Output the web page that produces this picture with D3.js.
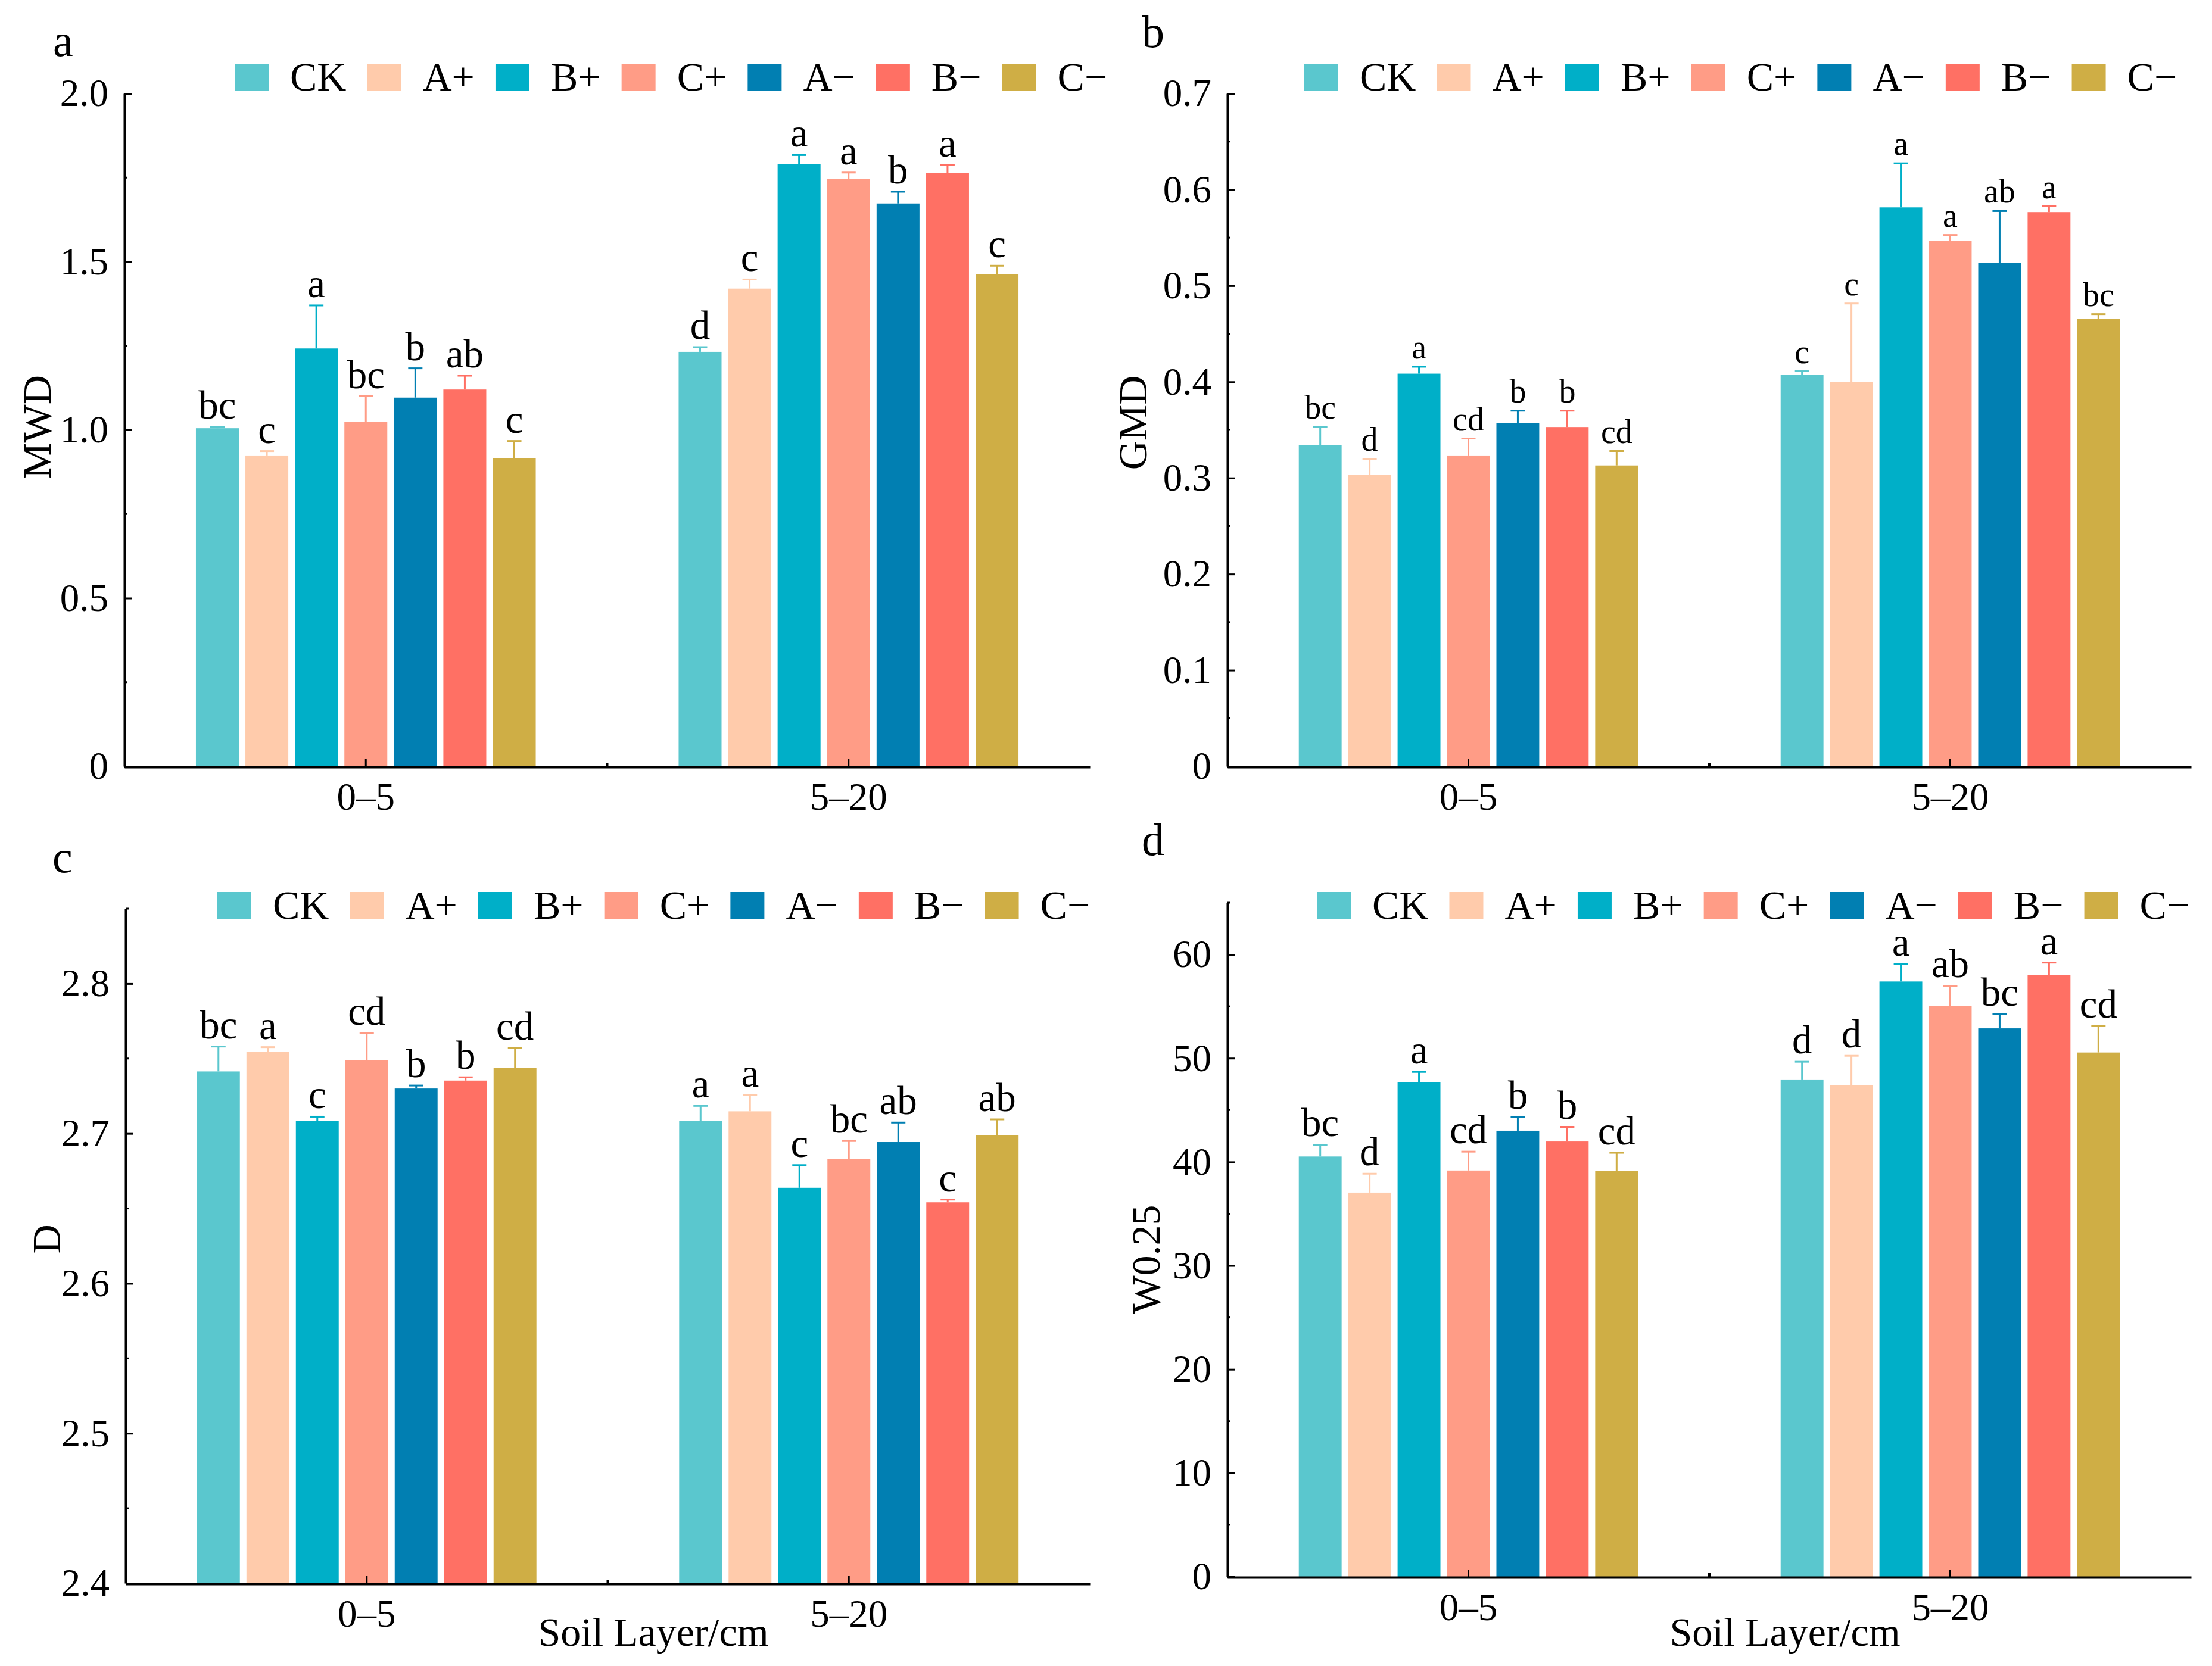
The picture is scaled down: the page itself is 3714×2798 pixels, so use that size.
<!DOCTYPE html>
<html>
<head>
<meta charset="utf-8">
<script src="https://cdn.jsdelivr.net/npm/d3@7"></script>
<style>
  body { margin: 0; background: #fff; }
  text { font-family: 'Liberation Serif', 'Times New Roman', serif; fill: #000; }
</style>
</head>
<body>
<svg id="main_svg" width="3714" height="2798"></svg>
<script>
// categories
const layers = ['0–5', '5–20'];
const treatments = ['CK', 'A+', 'B+', 'C+', 'A−', 'B−', 'C−'];
const colors = ['#5AC7CE', '#FFCBAB', '#00AFC8', '#FF9C86', '#017FB2', '#FF7064', '#CFAE45'];

// MWD
const mwd_0_5 = [1.005, 0.924, 1.242, 1.024, 1.096, 1.120, 0.916];
const mwd_0_5_err = [0.004, 0.013, 0.128, 0.076, 0.087, 0.041, 0.051];
const mwd_5_20 = [1.232, 1.420, 1.791, 1.746, 1.673, 1.763, 1.463];
const mwd_5_20_err = [0.014, 0.027, 0.026, 0.019, 0.035, 0.024, 0.025];
const mwd_sig = [['bc', 'c', 'a', 'bc', 'b', 'ab', 'c'], ['d', 'c', 'a', 'a', 'b', 'a', 'c']];

// GMD
const gmd_0_5 = [0.3345, 0.3035, 0.4085, 0.3234, 0.357, 0.353, 0.313];
const gmd_0_5_err = [0.0185, 0.016, 0.0072, 0.0176, 0.013, 0.017, 0.015];
const gmd_5_20 = [0.407, 0.400, 0.5815, 0.5467, 0.524, 0.5766, 0.4655];
const gmd_5_20_err = [0.004, 0.0815, 0.0459, 0.0061, 0.0537, 0.006, 0.0049];
const gmd_sig = [['bc', 'd', 'a', 'cd', 'b', 'b', 'cd'], ['c', 'c', 'a', 'a', 'ab', 'a', 'bc']];

// D
const d_0_5 = [2.7414, 2.7544, 2.7084, 2.749, 2.730, 2.7353, 2.7436];
const d_0_5_err = [0.0166, 0.0032, 0.0028, 0.018, 0.002, 0.0022, 0.0134];
const d_5_20 = [2.7084, 2.7148, 2.6638, 2.6828, 2.6943, 2.6541, 2.6987];
const d_5_20_err = [0.010, 0.0108, 0.0151, 0.0122, 0.013, 0.0018, 0.0107];
const d_sig = [['bc', 'a', 'c', 'cd', 'b', 'b', 'cd'], ['a', 'a', 'c', 'bc', 'ab', 'c', 'ab']];

// W0.25
const w_0_5 = [40.52, 37.04, 47.69, 39.17, 43.01, 41.97, 39.12];
const w_0_5_err = [1.14, 1.82, 0.99, 1.82, 1.30, 1.41, 1.76];
const w_5_20 = [47.95, 47.43, 57.40, 55.06, 52.88, 58.03, 50.55];
const w_5_20_err = [1.71, 2.80, 1.66, 1.93, 1.41, 1.19, 2.54];
const w_sig = [['bc', 'd', 'a', 'cd', 'b', 'b', 'cd'], ['d', 'd', 'a', 'ab', 'bc', 'a', 'cd']];

// tick values
const mwd_ticks = [0, 0.5, 1.0, 1.5, 2.0];
const gmd_ticks = [0, 0.1, 0.2, 0.3, 0.4, 0.5, 0.6, 0.7];
const d_ticks = [2.4, 2.5, 2.6, 2.7, 2.8];
const w_ticks = [0, 10, 20, 30, 40, 50, 60];

const svg = d3.select('#main_svg');
svg.append('rect').attr('width', 3714).attr('height', 2798).attr('fill', '#fff');

function panel(p) {
  const g = svg.append('g');

  const x = d3.scaleBand().domain(layers).range([p.x0, p.x1]).padding(0);
  const half = x.bandwidth() * 0.352;
  const y = d3.scaleLinear().domain(p.domain).range([p.yBot, p.yTop]);

  const rows = layers.map(function(layer, li) {
    return treatments.map(function(t, ti) {
      return { layer: layer, li: li, t: t, ti: ti, v: p.means[li][ti], e: p.errs[li][ti], sig: p.sig[li][ti] };
    });
  });

  rows.forEach(function(row, li) {
    const cx = x(layers[li]) + x.bandwidth() / 2;
    const xi = d3.scaleBand().domain(treatments).range([cx - half, cx + half]).paddingInner(0.133).paddingOuter(0);
    const grp = g.append('g');

    grp.selectAll('rect.bar')
      .data(row)
      .enter()
      .append('rect')
      .attr('class', 'bar')
      .attr('x', d => xi(d.t))
      .attr('width', xi.bandwidth())
      .attr('y', d => y(d.v))
      .attr('height', d => y(p.domain[0]) - y(d.v))
      .attr('fill', d => colors[d.ti]);

    // upper error whisker
    grp.selectAll('line.err')
      .data(row)
      .enter()
      .append('line')
      .attr('x1', d => xi(d.t) + xi.bandwidth() / 2)
      .attr('x2', d => xi(d.t) + xi.bandwidth() / 2)
      .attr('y1', d => y(d.v))
      .attr('y2', d => y(d.v + d.e))
      .attr('stroke', d => colors[d.ti])
      .attr('stroke-width', 3);

    grp.selectAll('line.cap')
      .data(row)
      .enter()
      .append('line')
      .attr('x1', d => xi(d.t) + xi.bandwidth() / 2 - 12)
      .attr('x2', d => xi(d.t) + xi.bandwidth() / 2 + 12)
      .attr('y1', d => y(d.v + d.e))
      .attr('y2', d => y(d.v + d.e))
      .attr('stroke', d => colors[d.ti])
      .attr('stroke-width', 3);

    grp.selectAll('text.sig')
      .data(row)
      .enter()
      .append('text')
      .attr('x', d => xi(d.t) + xi.bandwidth() / 2)
      .attr('y', d => y(d.v + d.e) - 14)
      .attr('text-anchor', 'middle')
      .style('font-size', p.sigSize + 'px')
      .text(d => d.sig);
  });

  // y axis
  const yAxis = d3.axisLeft(y).tickValues(p.ticks).tickSizeInner(-12).tickSizeOuter(0)
    .tickPadding(27).tickFormat(p.fmt);
  const ya = g.append('g').attr('transform', 'translate(' + p.x0 + ',0)').call(yAxis);
  ya.select('.domain').attr('stroke-width', 4).attr('stroke', '#000');
  ya.selectAll('.tick line').attr('stroke-width', 3);
  ya.selectAll('.tick text')
    .style('font-family', "'Liberation Serif', serif")
    .style('font-size', '65px');

  // y minor ticks
  g.append('g').selectAll('line')
    .data(p.minor)
    .enter()
    .append('line')
    .attr('x1', p.x0)
    .attr('x2', p.x0 + 5)
    .attr('y1', d => y(d))
    .attr('y2', d => y(d))
    .attr('stroke', '#000')
    .attr('stroke-width', 3);

  // x axis
  const xAxis = d3.axisBottom(x).tickSizeInner(-13).tickSizeOuter(0).tickPadding(26);
  const xa = g.append('g').attr('transform', 'translate(0,' + (p.yBot + 1) + ')').call(xAxis);
  xa.select('.domain').attr('stroke-width', 4).attr('stroke', '#000');
  xa.selectAll('.tick line').attr('stroke-width', 3);
  xa.selectAll('.tick text')
    .style('font-family', "'Liberation Serif', serif")
    .style('font-size', '65px');

  // minor tick between the two layers
  g.append('line')
    .attr('x1', x(layers[1]))
    .attr('x2', x(layers[1]))
    .attr('y1', p.yBot + 1)
    .attr('y2', p.yBot - 6)
    .attr('stroke', '#000')
    .attr('stroke-width', 4);

  // y title
  g.append('text')
    .attr('transform', 'translate(' + p.titleX + ',' + p.titleY + ') rotate(-90)')
    .attr('text-anchor', 'middle')
    .style('font-size', '68px')
    .text(p.title);

  // panel letter
  g.append('text')
    .attr('x', p.letterX)
    .attr('y', p.letterY)
    .style('font-size', '76px')
    .text(p.letter);

  // legend
  let lx = p.legX;
  treatments.forEach(function(t, i) {
    g.append('rect')
      .attr('x', lx)
      .attr('y', p.legY)
      .attr('width', 57)
      .attr('height', 45)
      .attr('fill', colors[i]);
    const txt = g.append('text')
      .attr('x', lx + 93)
      .attr('y', p.legY + 45)
      .style('font-size', '68px')
      .text(t);
    lx = lx + 93 + txt.node().getComputedTextLength() + 35;
  });

  // x title
  if (p.xTitle) {
    g.append('text')
      .attr('x', p.xTitleX)
      .attr('y', 2764)
      .attr('text-anchor', 'middle')
      .style('font-size', '68px')
      .text(p.xTitle);
  }
}

const fmtMWD = d => d === 0 ? '0' : d3.format('.1f')(d);
const fmtGMD = d => d === 0 ? '0' : d3.format('.1f')(d);

panel({
  x0: 209, x1: 1830, yTop: 157, yBot: 1287, domain: [0, 2],
  means: [mwd_0_5, mwd_5_20], errs: [mwd_0_5_err, mwd_5_20_err], sig: mwd_sig,
  ticks: mwd_ticks, minor: [0.25, 0.75, 1.25, 1.75], fmt: fmtMWD, sigSize: 67,
  title: 'MWD', titleX: 85, titleY: 717, letter: 'a', letterX: 89, letterY: 94,
  legX: 394, legY: 107
});

panel({
  x0: 2061, x1: 3679, yTop: 157, yBot: 1287, domain: [0, 0.7],
  means: [gmd_0_5, gmd_5_20], errs: [gmd_0_5_err, gmd_5_20_err], sig: gmd_sig,
  ticks: gmd_ticks, minor: [0.05, 0.15, 0.25, 0.35, 0.45, 0.55, 0.65], fmt: fmtGMD, sigSize: 56,
  title: 'GMD', titleX: 1925, titleY: 710, letter: 'b', letterX: 1917, letterY: 79,
  legX: 2190, legY: 107
});

panel({
  x0: 211, x1: 1830, yTop: 1526, yBot: 2659, domain: [2.4, 2.85],
  means: [d_0_5, d_5_20], errs: [d_0_5_err, d_5_20_err], sig: d_sig,
  ticks: d_ticks, minor: [2.45, 2.55, 2.65, 2.75, 2.85], fmt: d3.format('.1f'), sigSize: 67,
  title: 'D', titleX: 101, titleY: 2081, letter: 'c', letterX: 88, letterY: 1465,
  legX: 365, legY: 1498, xTitle: 'Soil Layer/cm', xTitleX: 1097
});

panel({
  x0: 2061, x1: 3679, yTop: 1516, yBot: 2648, domain: [0, 65],
  means: [w_0_5, w_5_20], errs: [w_0_5_err, w_5_20_err], sig: w_sig,
  ticks: w_ticks, minor: [5, 15, 25, 35, 45, 55, 65], fmt: d3.format('d'), sigSize: 67,
  title: 'W0.25', titleX: 1947, titleY: 2115, letter: 'd', letterX: 1917, letterY: 1436,
  legX: 2211, legY: 1498, xTitle: 'Soil Layer/cm', xTitleX: 2997
});
</script>
</body>
</html>
